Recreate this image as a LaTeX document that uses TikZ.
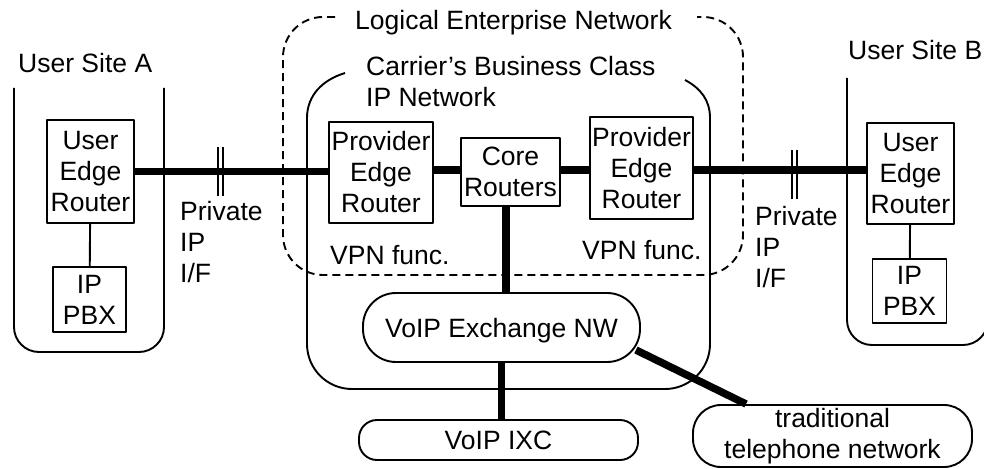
\documentclass[tikz,border=0pt]{standalone}
\usepackage{fontspec}
\setmainfont{Liberation Sans}
\usetikzlibrary{calc}
\newcommand\diagfont{\fontsize{26.5}{31}\selectfont}
\tikzset{
  outline/.style={line width=1.9pt},
  heavy/.style={line width=7.5pt},
  dashline/.style={line width=1.9pt, dash pattern=on 8pt off 5pt},
  box/.style={draw, line width=1.9pt, fill=white, inner sep=0pt, align=center, font=\diagfont},
  pill/.style={box, rounded corners=#1},
  txt/.style={inner sep=0pt, font=\diagfont, align=left},
}
\begin{document}
\begin{tikzpicture}[x=1pt, y=1pt, line join=round]
\useasboundingbox (0,0) rectangle (984,-468);

% user sites (open at the top)
\draw[outline, rounded corners=25] (14,-88) -- (14,-352) -- (164,-352) -- (164,-88);
\draw[outline, rounded corners=25] (847,-78) -- (847,-345) -- (988,-345) -- (988,-78);

% logical enterprise network (dashed, gap for its title)
\draw[dashline, rounded corners=40] (335,-17) -- (283,-17) -- (283,-275) -- (743,-275) -- (743,-17) -- (697,-17);

% carrier IP network (gap for its title)
\draw[outline, rounded corners=45] (307,-118) -- (307,-389) -- (710,-389) -- (710,-118);
\draw[outline] (307,-118) to[out=90, in=197] (345,-73);
\draw[outline] (710,-118) to[out=90, in=-28] (685,-80);

% equipment
\node[box, minimum width=87, minimum height=103] (uerA) at (90.5,-171.5) {User\\Edge\\Router};
\node[box, minimum width=73, minimum height=65] (pbxA) at (89.5,-299.5) {IP\\PBX};
\node[box, minimum width=104, minimum height=101] (peA) at (381,-172.5) {Provider\\Edge\\Router};
\node[box, minimum width=99, minimum height=68] (core) at (510.5,-172) {Core\\Routers};
\node[box, minimum width=103, minimum height=102] (peB) at (641.5,-168) {Provider\\Edge\\Router};
\node[box, minimum width=87, minimum height=101] (uerB) at (910.5,-173.5) {User\\Edge\\Router};
\node[box, minimum width=74, minimum height=64] (pbxB) at (909.5,-291) {IP\\PBX};
\node[pill=33, minimum width=277, minimum height=69, text depth=0pt] (vx) at (501.5,-327.5) {VoIP Exchange NW};
\node[pill=18, minimum width=279, minimum height=40] (ixc) at (498.5,-440) {VoIP IXC};
\node[pill=28, minimum width=279, minimum height=62] (tel) at (832.5,-436) {traditional\\telephone network};

% links
\draw[outline] (uerA) -- (pbxA);
\draw[outline] (uerB) -- (pbxB);
\draw[heavy] (uerA.east) -- (uerA.east -| peA.west);
\draw[heavy] ([yshift=2pt]core.west) -- ([yshift=2pt]core.west -| peA.east);
\draw[heavy] ([yshift=2pt]core.east) -- ([yshift=2pt]core.east -| peB.west);
\draw[heavy] ([yshift=3.5pt]uerB.west) -- ([yshift=3.5pt]uerB.west -| peB.east);
\draw[heavy] ([xshift=-4.5pt]core.south) -- ([xshift=-4.5pt]core.south |- vx.north);
\draw[heavy] (vx.south) -- (vx.south |- ixc.north);
\draw[heavy] ($(vx.east)+(-5,-22.5)$) -- ($(tel.north west)+(54,0)$);

% interface break marks
\coordinate (cutA) at (220.5,-171.5);
\coordinate (cutB) at (794.5,-174.5);
\foreach \c in {cutA, cutB} {
  \draw[outline] ([xshift=-2.5pt, yshift=24.5pt]\c) -- ++(0,-49);
  \draw[outline] ([xshift=2.5pt, yshift=24.5pt]\c) -- ++(0,-49);
}

% labels
\node[txt, anchor=base west] (siteA) at (18,-72.5) {User Site A};
\node[txt, anchor=base west] (siteB) at (848,-59.5) {User Site B};
\node[txt, anchor=base] (lenet) at (513.5,-29.5) {Logical Enterprise Network};
\node[txt, anchor=west] (carrier) at (366,-81.4) {Carrier’s Business Class\\IP Network};
\node[txt, anchor=west] (privA) at (180,-242) {Private\\IP\\I/F};
\node[txt, anchor=west] (privB) at (755,-247) {Private\\IP\\I/F};
\node[txt, anchor=base west] (vpnA) at (330,-264.5) {VPN func.};
\node[txt, anchor=base west] (vpnB) at (582,-259.5) {VPN func.};
\end{tikzpicture}
\end{document}
